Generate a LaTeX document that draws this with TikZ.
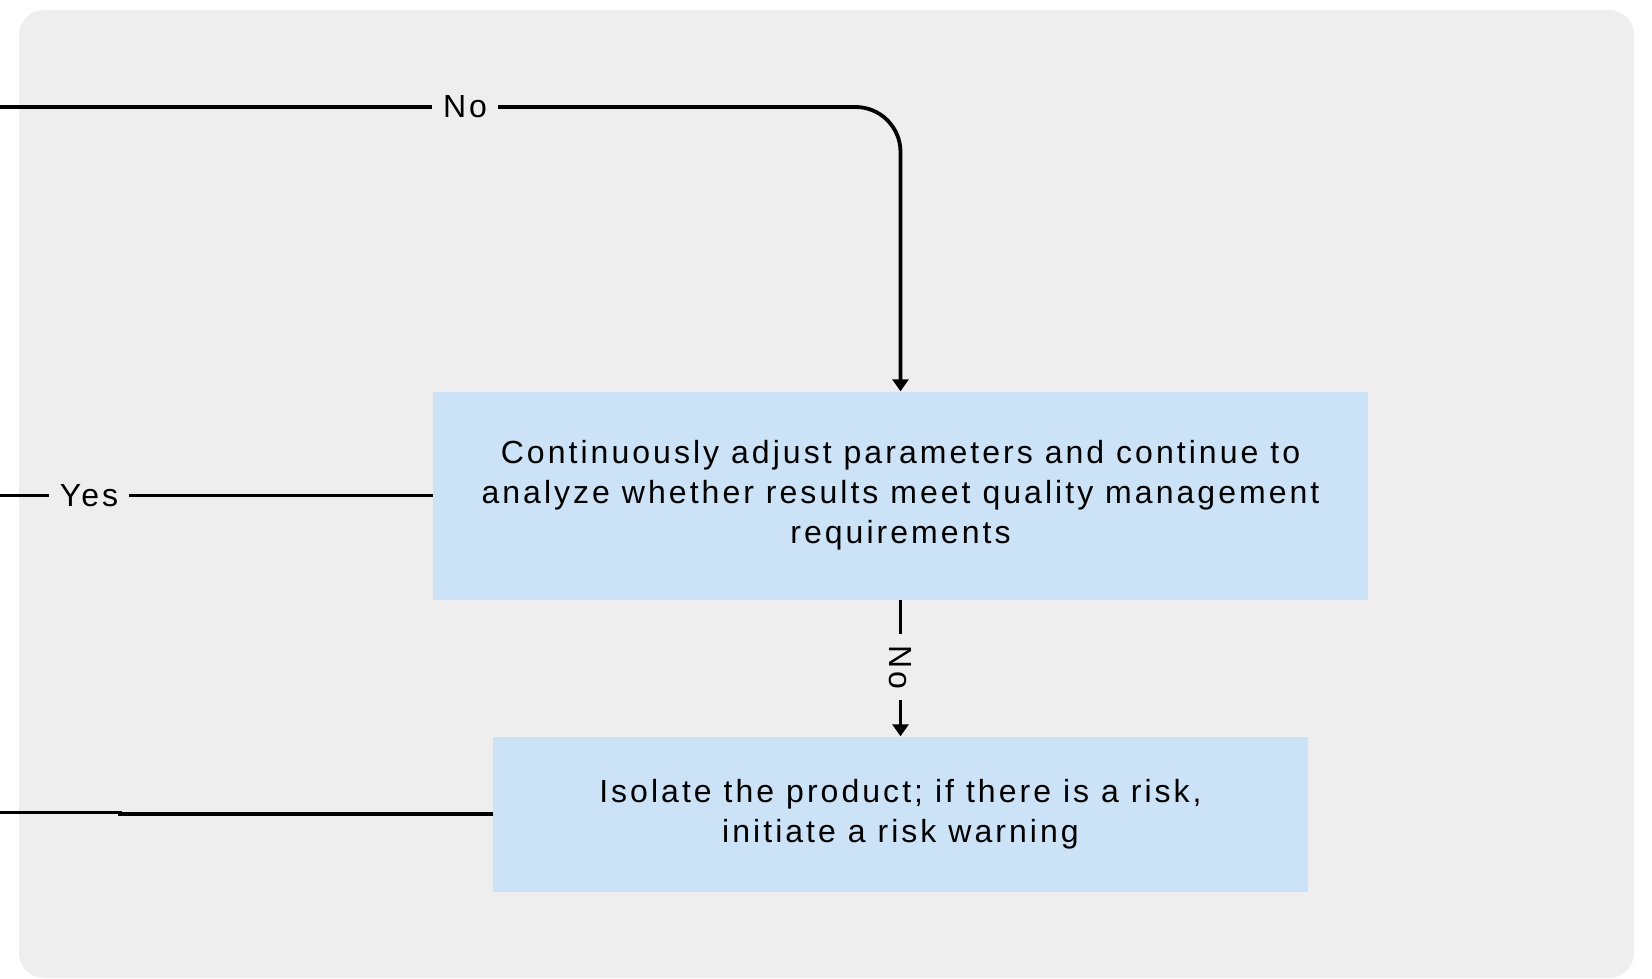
\documentclass[tikz,border=0pt]{standalone}
\usepackage{fontspec}
\setmainfont[LetterSpace=9.5]{Liberation Sans}
\usetikzlibrary{arrows.meta}
\definecolor{panelgray}{HTML}{EEEEEE}
\definecolor{boxblue}{HTML}{CCE2F7}
\tikzset{
  procbox/.style={fill=boxblue, draw=none, align=center, inner sep=0pt,
    font=\fontsize{32}{40}\selectfont},
  flowlabel/.style={font=\fontsize{32}{40}\selectfont, inner xsep=11pt, inner ysep=0pt},
  flowline/.style={line width=3.8pt},
  flowarrow/.style={flowline, -{Triangle[width=16pt,length=12pt]}},
}
\begin{document}
\begin{tikzpicture}[x=1pt,y=1pt]
\useasboundingbox (0,0) rectangle (1652,-979);
% panel
\fill[panelgray, rounded corners=25pt] (19,-10) rectangle (1634,-978);

% process boxes
\node[procbox, minimum width=935pt, minimum height=208pt] (adjust) at (900.5,-495.5)
  {Continuously adjust parameters and continue to\\
   analyze whether results meet quality management\\
   requirements};
\node[procbox, minimum width=815pt, minimum height=155pt] (isolate) at (900.5,-814)
  {Isolate the product; if there is a risk,\\
   initiate a risk warning};

% branch labels
\node[flowlabel] (noTop) at (465,-107) {No};
\node[flowlabel] (yesLbl) at (89,-495.5) {Yes};
\node[flowlabel, rotate=-90] (noDown) at (900.5,-667) {No};

% free ends at the left edge
\coordinate (topIn) at (0,-107);
\coordinate (yesOut) at (0,-495.5);
\coordinate (lowIn) at (0,-812.5);
\coordinate (lowJog) at (120,-812.5);

% connectors
\draw[flowline] (topIn) -- (noTop.west);
\draw[flowarrow, rounded corners=45pt] (noTop.east) -| (adjust.north);
\draw[flowline] (yesOut) -- (yesLbl.west);
\draw[flowline] (yesLbl.east) -- (adjust.west);
\draw[flowline] (adjust.south) -- (adjust.south |- noDown.west);
\draw[flowarrow] (adjust.south |- noDown.east) -- (isolate.north);
\draw[flowline] (lowIn) -- (lowJog) -- ++(0,-1.5) -- (isolate.west);
\end{tikzpicture}
\end{document}
